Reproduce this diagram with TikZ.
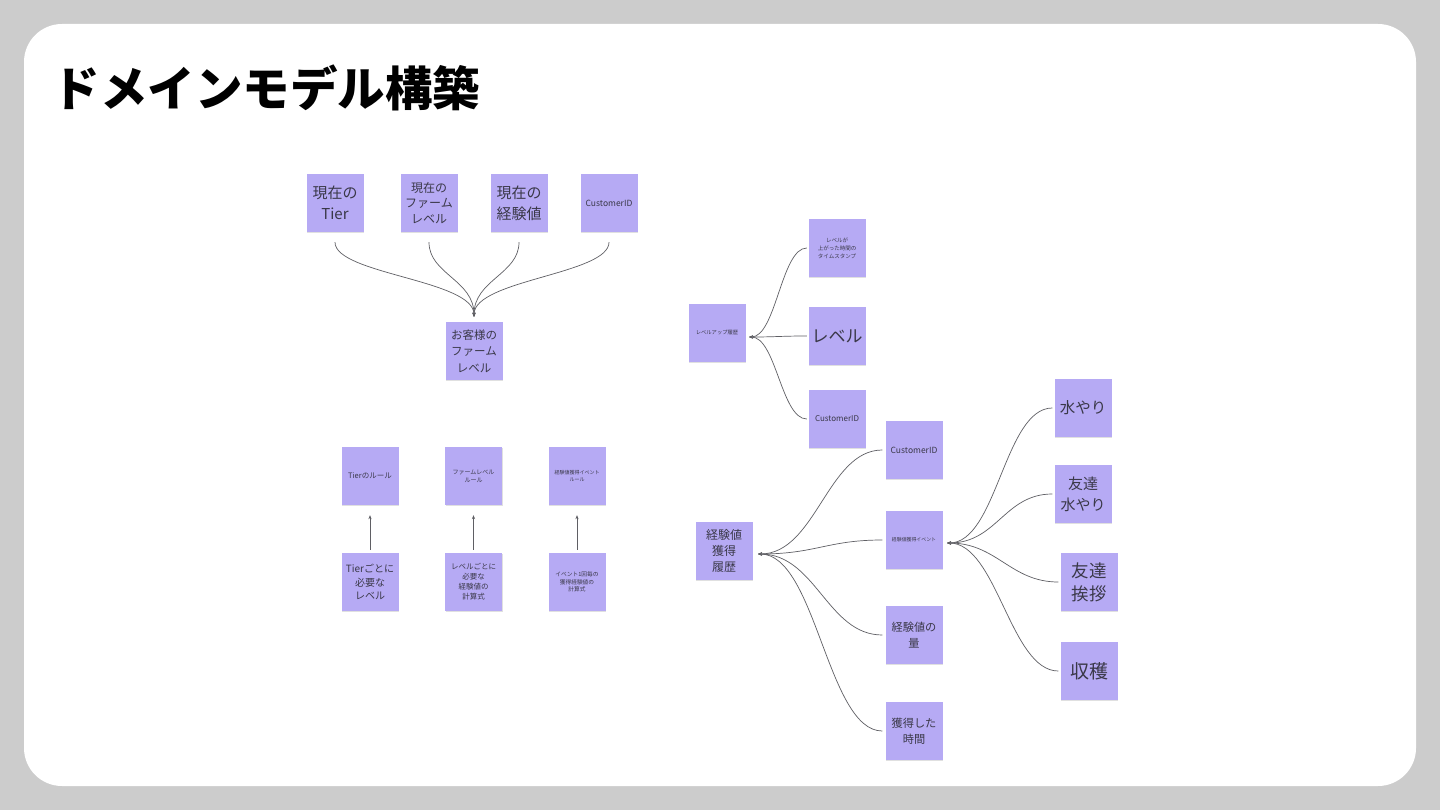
\documentclass[tikz,border=0pt]{standalone}
\usepackage{fontspec}
\setmainfont{Noto Sans CJK JP}
\usepackage{tikz}
\usetikzlibrary{positioning, arrows.meta, shadows}

\definecolor{sticky}{RGB}{182,170,244}
\definecolor{ink}{RGB}{58,56,72}
\definecolor{wire}{RGB}{95,95,100}
\definecolor{canvas}{RGB}{204,204,204}
\newcommand{\sz}[2]{\fontsize{#1}{#2}\selectfont}

\tikzset{
  note/.style={rectangle, fill=sticky, minimum width=57pt, minimum height=58pt,
    inner sep=0pt, align=center, text=ink,
    drop shadow={shadow xshift=0.6pt, shadow yshift=-1.2pt, fill=black, opacity=0.12}},
  link/.style={wire, line width=0.7pt}
}

\begin{document}
\begin{tikzpicture}[x=1pt, y=1pt, >={Stealth[length=4pt,width=3.2pt]}, auto]
    % slide
    \fill[canvas] (0,0) rectangle (1440,-810);
    \fill[white, rounded corners=38pt] (24,-24) rectangle (1416,-786);
    \node[anchor=base west, font=\bfseries\sz{47.5}{56}] (title) at (49,-107) {ドメインモデル構築};

    % farm level of the customer
    \node[note, font=\sz{15}{21}] (tier) at (335,-203) {現在の\\Tier};
    \node[note, font=\sz{12}{15.5}] (farm) at (429,-203) {現在の\\ファーム\\レベル};
    \node[note, font=\sz{15}{21}] (exp) at (519,-203) {現在の\\経験値};
    \node[note, font=\sz{8.5}{10}] (cid) at (609,-203) {CustomerID};
    \node[note, font=\sz{11.5}{16.5}] (cfarm) at (474,-351) {お客様の\\ファーム\\レベル};

    \path[->, link, shorten <=10pt, shorten >=5pt, distance=42pt]
    (tier) edge [out=-90, in=90] (cfarm)
    (farm) edge [out=-90, in=90] (cfarm)
    (exp) edge [out=-90, in=90] (cfarm)
    (cid) edge [out=-90, in=90] (cfarm);

    % rules
    \node[note, font=\sz{7.5}{9}] (tierrule) at (370,-476) {Tierのルール};
    \node[note, font=\sz{6}{8.3}, right of=tierrule, node distance=103.5pt] (farmrule) {ファームレベル\\ルール};
    \node[note, font=\sz{5}{7}, right of=farmrule, node distance=103.5pt] (eventrule) {経験値獲得イベント\\ルール};
    \node[note, font=\sz{10}{13.5}, below of=tierrule, node distance=106pt] (tierlevel) {Tierごとに\\必要な\\レベル};
    \node[note, font=\sz{7.5}{10}, below of=farmrule, node distance=106pt] (levelcalc) {レベルごとに\\必要な\\経験値の\\計算式};
    \node[note, font=\sz{5.7}{7.2}, below of=eventrule, node distance=106pt] (eventcalc) {イベント1回毎の\\獲得経験値の\\計算式};

    \path[->, link, shorten <=3pt, shorten >=10pt]
    (tierlevel) edge (tierrule)
    (levelcalc) edge (farmrule)
    (eventcalc) edge (eventrule);

    % level up history
    \node[note, font=\sz{5.3}{7}] (lvhist) at (717,-333) {レベルアップ履歴};
    \coordinate (lvhistin) at (749,-337);
    \node[note, font=\sz{5.5}{8}] (stamp) at (837,-248) {レベルが\\上がった時間の\\タイムスタンプ};
    \node[note, font=\sz{17}{20}] (level) at (837,-336) {レベル};
    \node[note, font=\sz{8}{10}] (cid2) at (837,-419) {CustomerID};

    \path[->, link, shorten <=1.5pt, distance=27pt]
    (stamp.west) edge [out=180, in=0] (lvhistin)
    (level.west) edge [out=180, in=0] (lvhistin)
    (cid2.west) edge [out=180, in=0] (lvhistin);

    % exp history
    \node[note, font=\sz{12}{16}] (exphist) at (724,-551) {経験値\\獲得\\履歴};
    \coordinate (exphistin) at (758,-554);
    \node[note, font=\sz{8.5}{10}] (cid3) at (914,-450) {CustomerID};
    \node[note, font=\sz{4.9}{6}] (event) at (914,-540) {経験値獲得イベント};
    \coordinate (eventin) at (947,-543);
    \node[note, font=\sz{11.2}{15.5}] (amount) at (914,-635) {経験値の\\量};
    \node[note, font=\sz{11.2}{15.5}] (gaintime) at (914,-731) {獲得した\\時間};

    \path[->, link, shorten <=3pt, distance=58pt]
    (cid3.west) edge [out=180, in=0] (exphistin)
    (event.west) edge [out=180, in=0] (exphistin)
    (amount.west) edge [out=180, in=0] (exphistin)
    (gaintime.west) edge [out=180, in=0] (exphistin);

    % event kinds
    \node[note, font=\sz{15.5}{20}] (water) at (1083,-408) {水やり};
    \node[note, font=\sz{15}{21}] (fwater) at (1083,-494) {友達\\水やり};
    \node[note, font=\sz{17.5}{23}] (greet) at (1089,-582) {友達\\挨拶};
    \node[note, font=\sz{19}{22}] (harvest) at (1089,-671) {収穫};

    \path[->, link, shorten <=2pt, distance=50pt]
    (water.west) edge [out=180, in=0] (eventin)
    (fwater.west) edge [out=180, in=0] (eventin)
    (greet.west) edge [out=180, in=0] (eventin)
    (harvest.west) edge [out=180, in=0] (eventin);
\end{tikzpicture}
\end{document}
